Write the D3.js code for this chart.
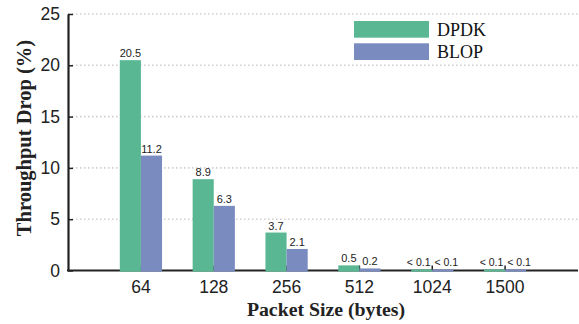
<!DOCTYPE html>
<html><head><meta charset="utf-8">
<script src="https://cdn.jsdelivr.net/npm/d3@7"></script>
<style>body{margin:0;background:#fff}</style>
</head><body>
<svg id="c" width="579" height="324"></svg>
<script>
const categories = ["64","128","256","512","1024","1500"];
const seriesNames = ["DPDK","BLOP"];
const dpdk = [20.5, 8.9, 3.7, 0.5, 0.1, 0.1];
const blop = [11.2, 6.3, 2.1, 0.2, 0.1, 0.1];
const dpdkLabels = ["20.5","8.9","3.7","0.5","< 0.1","< 0.1"];
const blopLabels = ["11.2","6.3","2.1","0.2","< 0.1","< 0.1"];
const yTicks = [0,5,10,15,20,25];
const colors = ["#59b893","#7a8bc0"];

(function(){
const svg = d3.select("#c");
const mLeft = 68, mRight = 578, mTop = 14, mBottom = 270.5;
const sans = "'Liberation Sans', Arial, Helvetica, sans-serif";
const serif = "'Liberation Serif', 'Times New Roman', serif";

const y = d3.scaleLinear().domain([0,25]).range([mBottom, mTop]);
const x = d3.scaleBand().domain(categories).range([mLeft+36.5, mRight-36.5]).paddingInner(0.42).paddingOuter(0.21);
const xs = d3.scaleBand().domain(seriesNames).range([0, x.bandwidth()]);

// gridlines
svg.append("g").selectAll("line").data(yTicks.filter(d=>d>0)).join("line")
  .attr("x1", mLeft).attr("x2", mRight).attr("y1", d=>y(d)).attr("y2", d=>y(d))
  .attr("stroke","#d0d0d0").attr("stroke-width",1.6).attr("stroke-dasharray","1.5,2.5");

// y axis
const yAxis = d3.axisLeft(y).tickValues(yTicks).tickSizeInner(-5).tickSizeOuter(0).tickPadding(8);
const ya = svg.append("g").attr("transform",`translate(${mLeft},0)`).call(yAxis);
ya.select(".domain").attr("stroke","#222").attr("stroke-width",2.2);
ya.selectAll(".tick line").attr("stroke","#222").attr("stroke-width",1.5);
ya.selectAll(".tick text").attr("font-family", sans).attr("font-size",17.5).attr("fill","#222");

// x axis
const xAxis = d3.axisBottom(x).tickSizeInner(-5).tickSizeOuter(0).tickPadding(10);
const xa = svg.append("g").attr("transform",`translate(0,${mBottom})`).call(xAxis);
xa.select(".domain").remove();
xa.append("line").attr("x1", mLeft-1).attr("x2", mRight).attr("stroke","#222").attr("stroke-width",2.2);
xa.selectAll(".tick line").attr("stroke","#222").attr("stroke-width",1.5);
xa.selectAll(".tick text").attr("font-family", sans).attr("font-size",17.5).attr("fill","#222");

// bars (drawn over the axis line)
const series = [dpdk, blop];
const labels = [dpdkLabels, blopLabels];
series.forEach((vals, si) => {
  const g = svg.append("g");
  g.selectAll("rect").data(vals).join("rect")
    .attr("x", (d,i)=>x(categories[i]) + xs(seriesNames[si]))
    .attr("width", xs.bandwidth())
    .attr("y", d=>y(d)).attr("height", d=>mBottom + 1.1 - y(d))
    .attr("fill", colors[si]);
  g.selectAll("text").data(vals).join("text")
    .attr("x", (d,i)=>x(categories[i]) + xs(seriesNames[si]) + xs.bandwidth()/2
           + (labels[si][i].startsWith("<") ? (si===0 ? -3 : 3.5) : 0))
    .attr("y", d=>y(d) - 3)
    .attr("text-anchor","middle").attr("font-family", sans)
    .attr("font-size", (d,i)=>labels[si][i].startsWith("<") ? 10.5 : 11).attr("fill","#222")
    .text((d,i)=>labels[si][i]);
});

// axis titles
svg.append("text").attr("x", 326).attr("y", 316).attr("text-anchor","middle")
  .attr("font-family", serif).attr("font-weight","bold").attr("font-size",19.8).attr("fill","#222")
  .text("Packet Size (bytes)");
svg.append("text").attr("transform","translate(31,138) rotate(-90)").attr("text-anchor","middle")
  .attr("font-family", serif).attr("font-weight","bold").attr("font-size",20.5).attr("fill","#222")
  .text("Throughput Drop (%)");

// legend
const lg = svg.append("g").attr("transform","translate(354,21)");
seriesNames.forEach((s,i)=>{
  lg.append("rect").attr("x",0).attr("y",i*22.3).attr("width",75).attr("height",16.7).attr("fill",colors[i]);
  lg.append("text").attr("x",83).attr("y",i*22.3+15).attr("font-family", serif).attr("font-size",18).attr("fill","#111").text(s);
});
})();
</script>
</body></html>
